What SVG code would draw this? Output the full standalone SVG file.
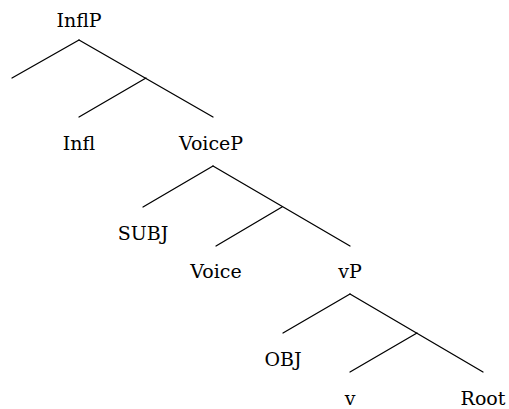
<svg xmlns="http://www.w3.org/2000/svg" width="509" height="409" viewBox="0 0 509 409">
<style>
.t{font-family:'DejaVu Serif',serif;font-size:19px;fill:#000;text-anchor:middle}
.c line{stroke:#000;stroke-width:1.3;stroke-linecap:round}
</style>
<rect width="509" height="409" fill="#fff"/>
<g id="connectors" class="c">
<line x1="79" y1="40" x2="12" y2="78"/>
<line x1="79" y1="40" x2="213" y2="117"/>
<line x1="146" y1="78" x2="79" y2="117"/>
<line x1="213" y1="166" x2="143" y2="207"/>
<line x1="213" y1="166" x2="350" y2="246"/>
<line x1="282" y1="207" x2="216" y2="246"/>
<line x1="350" y1="294" x2="283" y2="333"/>
<line x1="350" y1="294" x2="483" y2="372"/>
<line x1="417" y1="333" x2="350" y2="372"/>
</g>
<g id="InflP"><text class="t" x="79" y="27">InflP</text></g>
<g id="Infl"><text class="t" x="79" y="150">Infl</text></g>
<g id="VoiceP"><text class="t" x="211" y="150">VoiceP</text></g>
<g id="SUBJ"><text class="t" x="143" y="240">SUBJ</text></g>
<g id="Voice"><text class="t" x="216" y="278">Voice</text></g>
<g id="vP"><text class="t" x="350" y="278">vP</text></g>
<g id="OBJ"><text class="t" x="283" y="366">OBJ</text></g>
<g id="v"><text class="t" x="350" y="405">v</text></g>
<g id="Root"><text class="t" x="483" y="405">Root</text></g>
</svg>
